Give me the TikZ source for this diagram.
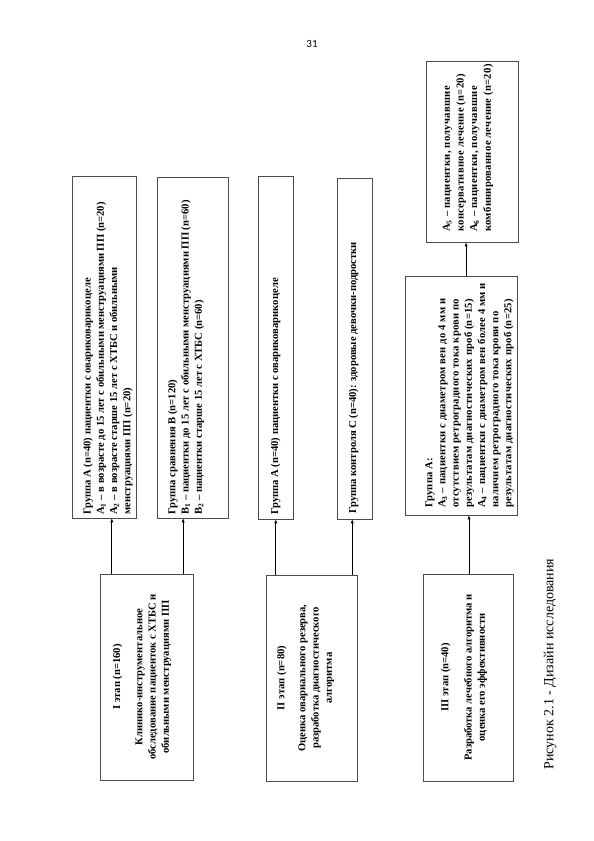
\documentclass[tikz,border=0pt]{standalone}
\usepackage{fontspec}
\setmainfont{Liberation Serif}
\newfontfamily\pagefont{Carlito}
\newfontfamily\spacedA[LetterSpace=2]{Liberation Serif}
\newfontfamily\spacedB[LetterSpace=3]{Liberation Serif}
\usetikzlibrary{calc,arrows.meta}
\begin{document}
\begin{tikzpicture}[x=1pt,y=1pt,
  box/.style={draw=black!70, line width=0.6pt, rotate=90, inner sep=0pt},
  txt/.style={rotate=90, font=\fontsize{10.6}{13.2}\selectfont\bfseries, align=left, inner sep=0pt, anchor=west},
  ctxt/.style={rotate=90, font=\fontsize{10.6}{13.2}\selectfont\bfseries, align=center, inner sep=0pt},
  arr/.style={-{Latex[length=4pt,width=3.2pt]}, line width=0.7pt}]
\useasboundingbox (0,0) rectangle (594,841);
\fill[white] (0,0) rectangle (594,841);

% boxes (minimum width = vertical length on page, minimum height = horizontal width)
\node[box, minimum width=206, minimum height=93] (s1) at (146.5,164) {};
\node[box, minimum width=206, minimum height=91] (s2) at (311.5,163) {};
\node[box, minimum width=207, minimum height=90] (s3) at (468,163.5) {};
\node[box, minimum width=342, minimum height=64] (gA) at (104,494) {};
\node[box, minimum width=341, minimum height=71] (gB) at (192.5,493.5) {};
\node[box, minimum width=343, minimum height=35] (gA2) at (275.5,493.5) {};
\node[box, minimum width=341, minimum height=35] (gC) at (354.5,492.5) {};
\node[box, minimum width=239, minimum height=112] (gA3) at (461,445.5) {};
\node[box, minimum width=181, minimum height=92] (gA5) at (472,689.5) {};

% texts
\node[ctxt] (s1t) at (142,164) {I этап (n=160)\\[9pt]Клинико-инструментальное\\обследование пациенток с ХТБС и\\обильными менструациями ПП};
\node[ctxt] (s2t) at (305.5,163) {II этап (n=80)\\[8pt]Оценка овариального резерва,\\разработка диагностического\\алгоритма};
\node[ctxt] (s3t) at (464,163.5) {III этап (n=40)\\[10pt]Разработка лечебного алгоритма и\\оценка его эффективности};

\node[txt] (gAt) at (108,326) {Группа А (n=40) пациентки с овариковарикоцеле\\А\textsubscript{1} – в возрасте до 15 лет с обильными менструациями ПП (n=20)\\А\textsubscript{2} – в возрасте старше 15 лет с ХТБС и обильными\\менструациями ПП (n=20)};
\node[txt] (gBt) at (186,326) {Группа сравнения В (n=120)\\В\textsubscript{1} – пациентки до 15 лет с обильными менструациями ПП (n=60)\\В\textsubscript{2} – пациентки старше 15 лет с ХТБС (n=60)};
\node[txt] (gA2t) at (275.5,326) {Группа А (n=40) пациентки с овариковарикоцеле};
\node[txt] (gCt) at (353.5,327) {Группа контроля С (n=40): здоровые девочки-подростки};
\node[txt, font=\fontsize{10.6}{13.2}\spacedA\bfseries] (gA3t) at (469.5,333) {Группа А:\\А\textsubscript{3} – пациентки с диаметром вен до 4 мм и\\отсутствием ретроградного тока крови по\\результатам диагностических проб (n=15)\\А\textsubscript{4} – пациентки с диаметром вен более 4 мм и\\наличием ретроградного тока крови по\\результатам диагностических проб (n=25)};
\node[txt, font=\fontsize{10.6}{13.6}\spacedB\bfseries] (gA5t) at (468,609) {А\textsubscript{5} – пациентки, получавшие\\консервативное лечение (n=20)\\А\textsubscript{6} – пациентки, получавшие\\комбинированное лечение (n=20)};

% connectors
\coordinate (p1) at ($(s1.north east)!0.129!(s1.south east)$);
\coordinate (p2) at ($(s1.north east)!0.892!(s1.south east)$);
\coordinate (p3) at ($(s2.north east)!0.11!(s2.south east)$);
\coordinate (p4) at ($(s2.north east)!0.945!(s2.south east)$);
\coordinate (p5) at ($(s3.north east)!0.511!(s3.south east)$);
\coordinate (p6) at ($(gA3.north east)!0.545!(gA3.south east)$);
\draw[arr] (p1) -- (p1 |- gA.west);
\draw[arr] (p2) -- (p2 |- gB.west);
\draw[arr] (p3) -- (p3 |- gA2.west);
\draw[arr] (p4) -- (p4 |- gC.west);
\draw[arr] (p5) -- (p5 |- gA3.west);
\draw[arr] (p6) -- (p6 |- gA5.west);

% caption and page number
\node[rotate=90, font=\fontsize{14}{16}\selectfont, inner sep=0pt] (cap) at (550,177) {Рисунок 2.1 - Дизайн исследования};
\node[font=\pagefont\fontsize{11}{13}\selectfont, inner sep=0pt] (pn) at (312,797) {31};
\end{tikzpicture}
\end{document}
